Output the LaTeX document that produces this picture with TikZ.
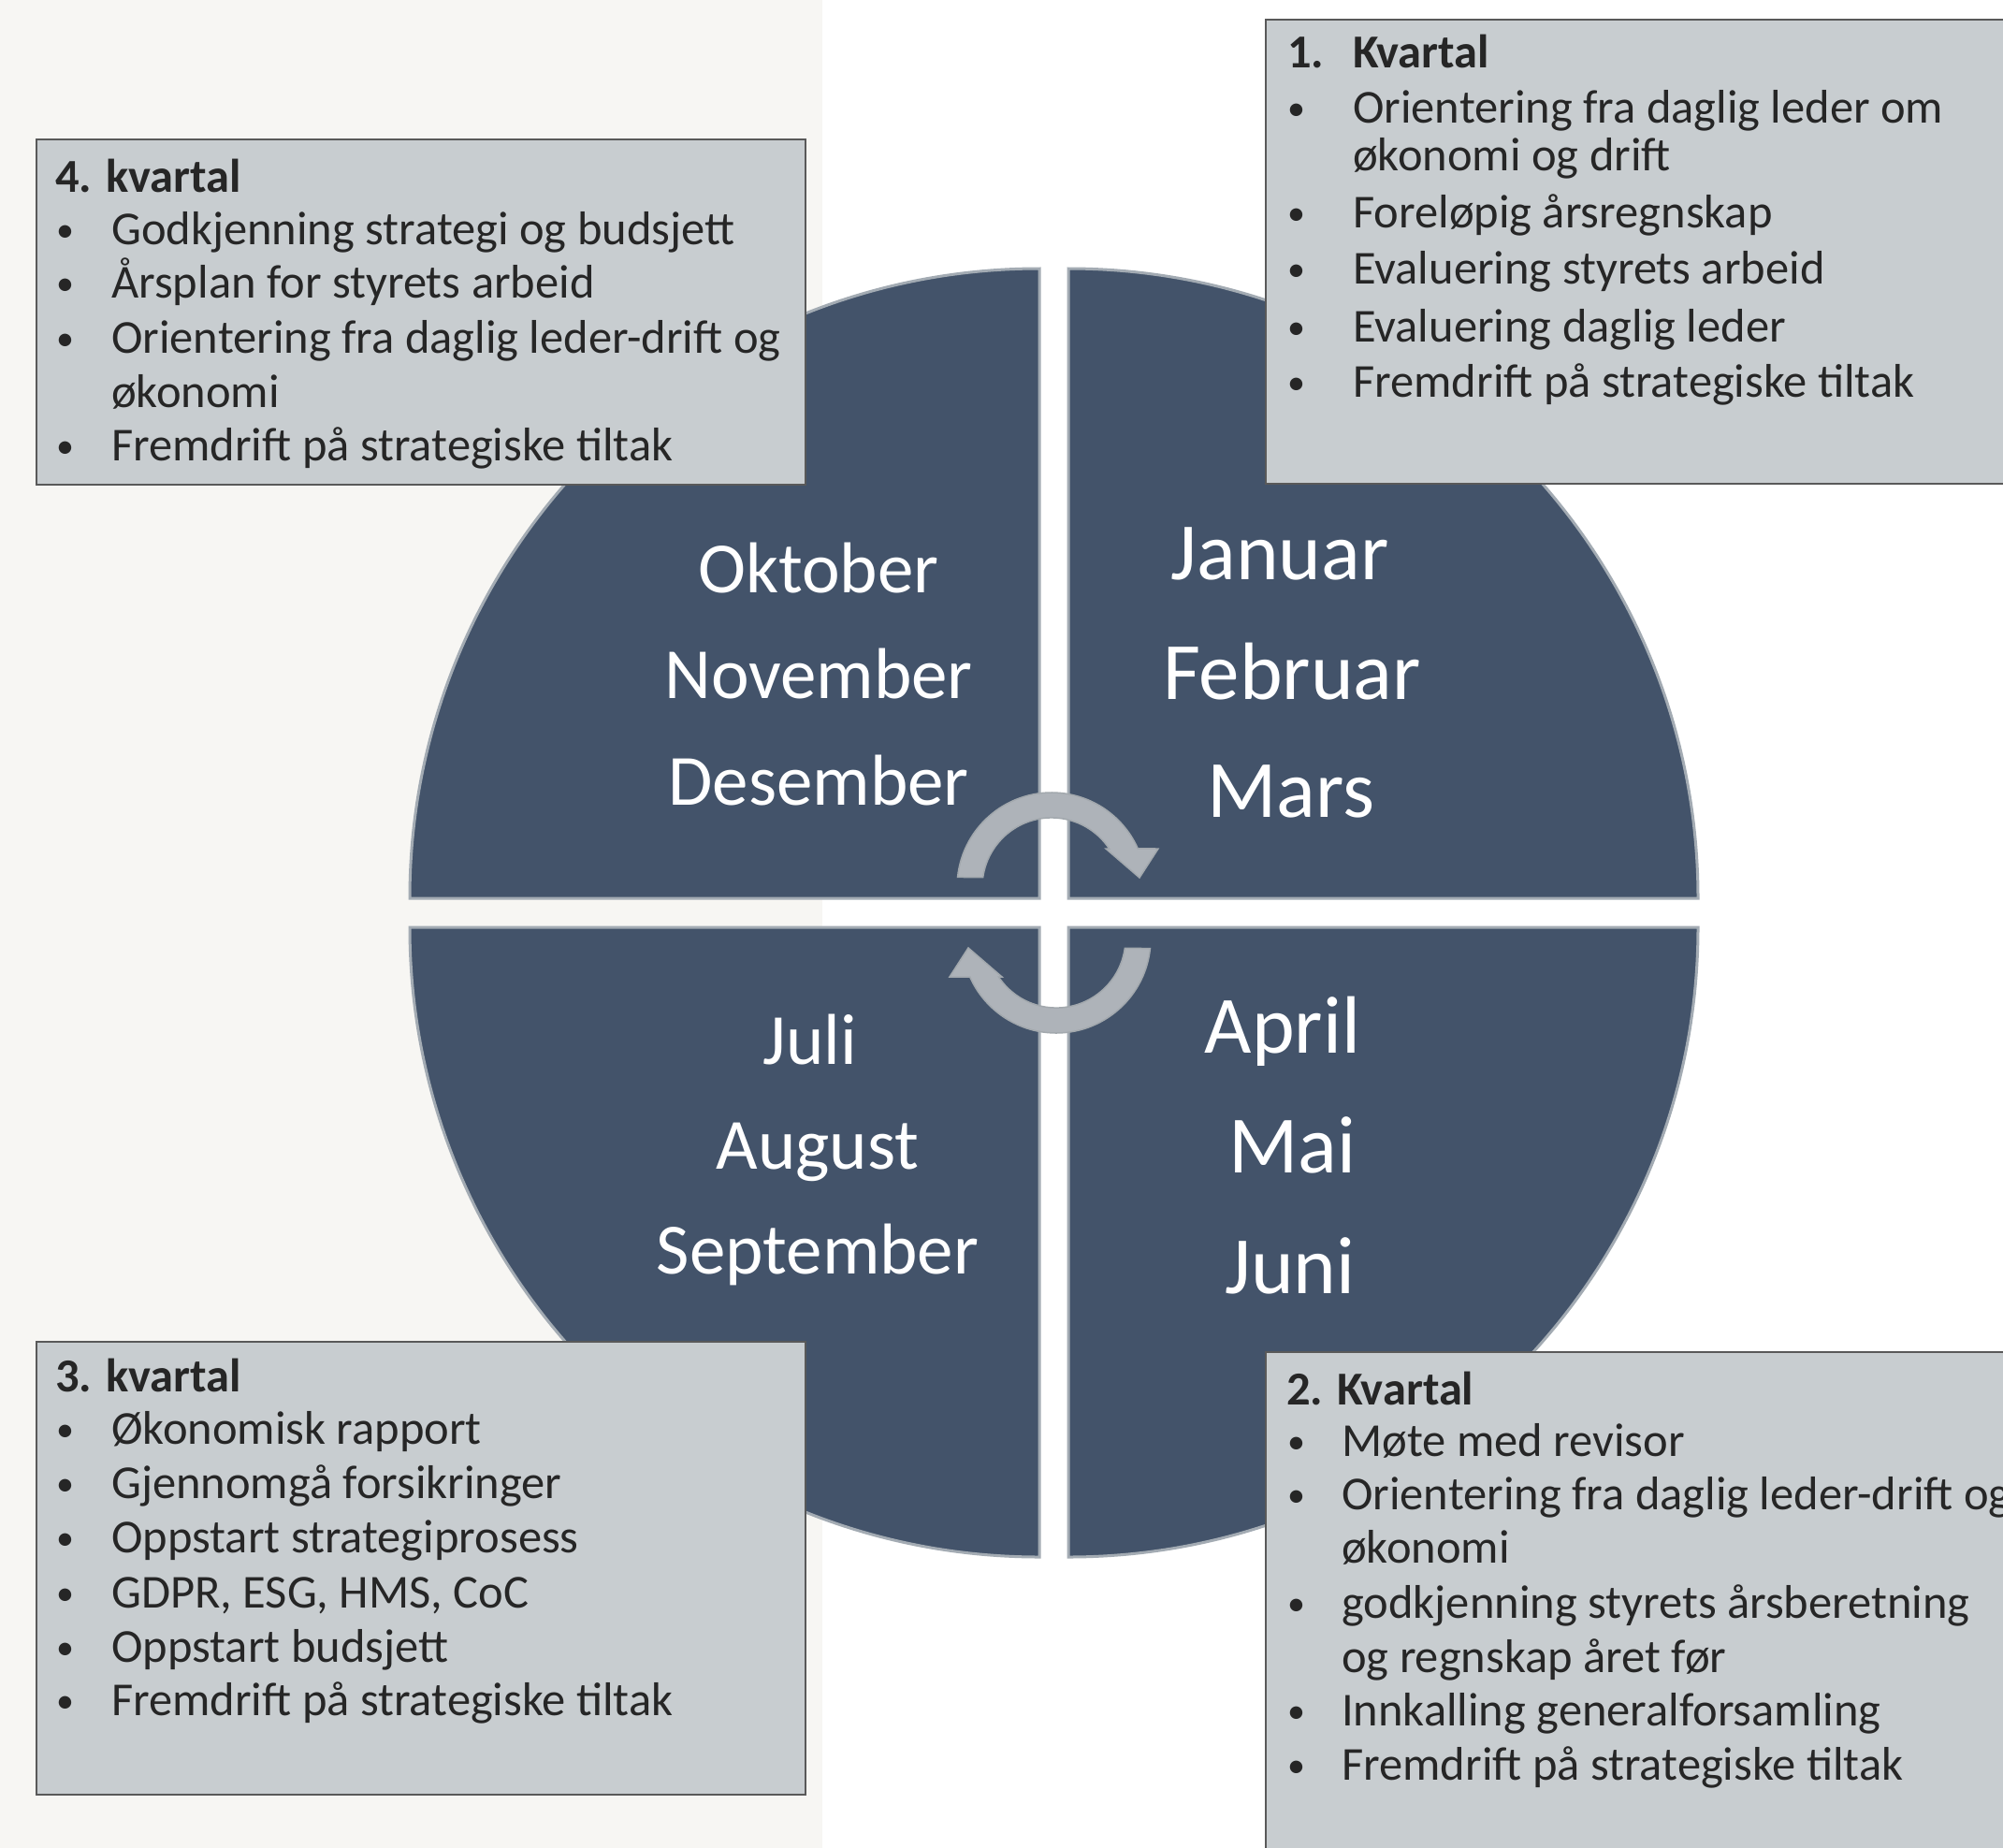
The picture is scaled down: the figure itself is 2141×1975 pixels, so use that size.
\documentclass[tikz,border=0pt]{standalone}
\usepackage{fontspec}
\setmainfont{Carlito}
\usepackage{xcolor}
\definecolor{slate}{HTML}{43536A}
\definecolor{rim}{HTML}{A3ABB3}
\definecolor{paper}{HTML}{F7F6F3}
\definecolor{boxgray}{HTML}{C8CDD0}
\definecolor{boxline}{HTML}{595959}
\definecolor{ink}{HTML}{262626}
\definecolor{arrowgray}{HTML}{AEB3B9}
\definecolor{arrowrim}{HTML}{A2A8AD}
\tikzset{
	quarter/.style={fill=slate, draw=rim, line width=3pt},
	month/.style={text=white, inner sep=0pt, anchor=base, font=\fontsize{77}{80}\selectfont},
	bigmonth/.style={month, font=\fontsize{87}{90}\selectfont},
	infobox/.style={fill=boxgray, draw=boxline, line width=2pt},
	boxitem/.style={text=ink, inner sep=0pt, anchor=base west, font=\fontsize{50.5}{58}\selectfont},
	boxhead/.style={boxitem, font=\bfseries\fontsize{50.5}{58}\selectfont},
	boxdot/.style={boxitem, yshift=3pt, font=\fontsize{38}{40}\selectfont},
	cyclearrow/.style={fill=arrowgray, draw=arrowrim, line width=1.5pt}
}

\begin{document}
\begin{tikzpicture}[x=1pt,y=-1pt]
	\useasboundingbox (0,0) rectangle (2141,1975);
	\fill[white] (0,0) rectangle (2141,1975);
	\fill[paper] (0,0) rectangle (879,1975);
	\foreach \cx/\cy/\a in {1111/960/180, 1142/960/90, 1142/991/0, 1111/991/-90}
		\filldraw[quarter] (\cx,\cy) -- +(\a:673pt) arc[start angle=\a, delta angle=-90, radius=673pt] -- cycle;

	\node[month] (okt) at (875,633) {Oktober};
	\node[month] (nov) at (875,746) {November};
	\node[month] (des) at (875,860) {Desember};
	\node[bigmonth] (jan) at (1368,619) {Januar};
	\node[bigmonth] (feb) at (1381,747) {Februar};
	\node[bigmonth] (mar) at (1380,873) {Mars};
	\node[bigmonth] (apr) at (1371,1125) {April};
	\node[bigmonth] (mai) at (1381,1253) {Mai};
	\node[bigmonth] (jun) at (1379,1382) {Juni};
	\node[month] (jul) at (866,1137) {Juli};
	\node[month] (aug) at (874,1249) {August};
	\node[month] (sep) at (874,1361) {September};

	\foreach \r in {0,180}
		\filldraw[cyclearrow, rotate around={\r:(1126.5,975.5)}] (1023.55,937.44) arc[start angle=174, end angle=24, radius=101pt]
			-- (1238,907) -- (1218,938) -- (1182,907) -- (1185.6,907) arc[start angle=33.6, end angle=172, radius=74pt] -- cycle;

	\draw[infobox] (39,149) rectangle (861,518);
	\draw[infobox] (1353,21) rectangle (2150,517);
	\draw[infobox] (39,1434) rectangle (861,1918);
	\draw[infobox] (1353,1445) rectangle (2150,1990);

	\node[boxhead] (h4) at (59,205) {4. kvartal};
	\foreach \y/\txt [count=\i] in {261/Godkjenning strategi og budsjett, 318/Årsplan for styrets arbeid,
			377/Orientering fra daglig leder-drift og, 435/økonomi, 492/Fremdrift på strategiske tiltak}
		\node[boxitem] (t4-\i) at (119,\y) {\txt};
	\foreach \y [count=\i] in {261,318,377,492}
		\node[boxdot] (b4-\i) at (60,\y) {•};

	\node[boxhead] (h1n) at (1376,72) {1.};
	\node[boxhead] (h1) at (1446,72) {Kvartal};
	\foreach \y/\txt [count=\i] in {131/Orientering fra daglig leder om, 182/økonomi og drift, 243/Foreløpig årsregnskap,
			303/Evaluering styrets arbeid, 365/Evaluering daglig leder, 424/Fremdrift på strategiske tiltak}
		\node[boxitem] (t1-\i) at (1446,\y) {\txt};
	\foreach \y [count=\i] in {131,243,303,365,424}
		\node[boxdot] (b1-\i) at (1376,\y) {•};

	\node[boxhead] (h2) at (1375,1501) {2. Kvartal};
	\foreach \y/\txt [count=\i] in {1556/Møte med revisor, 1613/Orientering fra daglig leder-drift og, 1670/økonomi,
			1729/godkjenning styrets årsberetning, 1787/og regnskap året før, 1844/Innkalling generalforsamling,
			1902/Fremdrift på strategiske tiltak}
		\node[boxitem] (t2-\i) at (1434,\y) {\txt};
	\foreach \y [count=\i] in {1556,1613,1729,1844,1902}
		\node[boxdot] (b2-\i) at (1376,\y) {•};

	\node[boxhead] (h3) at (59,1487) {3. kvartal};
	\foreach \y/\txt [count=\i] in {1543/Økonomisk rapport, 1601/Gjennomgå forsikringer, 1659/Oppstart strategiprosess,
			1718/{GDPR, ESG, HMS, CoC}, 1776/Oppstart budsjett, 1833/Fremdrift på strategiske tiltak}
		\node[boxitem] (t3-\i) at (119,\y) {\txt};
	\foreach \y [count=\i] in {1543,1601,1659,1718,1776,1833}
		\node[boxdot] (b3-\i) at (60,\y) {•};
\end{tikzpicture}
\end{document}
